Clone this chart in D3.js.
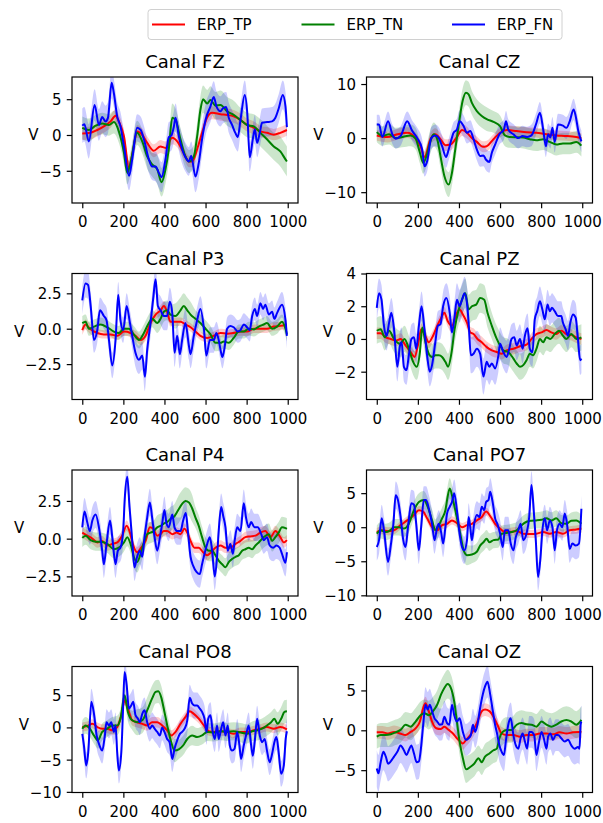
<!DOCTYPE html>
<html>
<head>
<meta charset="utf-8">
<script src="https://cdn.jsdelivr.net/npm/d3@7"></script>
<style>
  html, body { margin: 0; padding: 0; background: #ffffff; }
  svg { display: block; font-family: "DejaVu Sans", sans-serif; }
</style>
</head>
<body>
<svg id="chart" width="603" height="823"></svg>
<script>
// ---- categories / labels ----
const channels = ["FZ", "CZ", "P3", "PZ", "P4", "PO7", "PO8", "OZ"];
const seriesNames = ["ERP_TP", "ERP_TN", "ERP_FN"];
const timeTicks = [0, 200, 400, 600, 800, 1000];
const timeDomain = [-50, 1050];
// spread (standard error) values are given per 100 ms bin, 0..1000
const semBins = [0, 100, 200, 300, 400, 500, 600, 700, 800, 900, 1000];

// ---- y axis setup per channel ----
const yDomains = [[-9.5, 8.1], [-12.0, 11.3], [-5.0, 3.9], [-3.7, 4.0],
                  [-3.8, 4.55], [-10.1, 8.4], [-10.1, 9.45], [-7.8, 8.0]];
const yTickValues = [[-5, 0, 5], [-10, 0, 10], [-2.5, 0, 2.5], [-2, 0, 2, 4],
                     [-2.5, 0, 2.5], [-10, -5, 0, 5], [-10, -5, 0, 5], [-5, 0, 5]];
const yTickFormats = ["d", "d", ".1f", "d", ".1f", "d", "d", "d"];

// ---- averaged ERP traces: [time (ms), amplitude (V)] ----
const FZ_TP = [[0,0.2],[40,0.3],[73,0.7],[105,1.2],[138,1.9],[162,2.7],[178,1.9],[203,-0.2],[227,-4.5],[245,-2.5],[267,0.5],[292,0],[316,-1.1],[348,-2.2],[380,-1.6],[405,-1.8],[438,-0.4],[462,-0.9],[494,-2.5],[519,-3.7],[535,-3.7],[559,-2.0],[583,0.3],[607,2.4],[632,3.1],[673,2.9],[705,2.8],[737,2.6],[769,2.1],[802,1.4],[835,1.0],[867,0.5],[899,0.3],[932,0.05],[964,0.3],[996,0.7]];
const FZ_TN = [[0,1.0],[32,0.7],[65,1.3],[97,1.6],[130,1.4],[154,1.8],[178,0.5],[203,-2.5],[219,-5.3],[235,-3.9],[267,0.3],[292,-0.9],[316,-3.0],[340,-4.1],[365,-4.8],[386,-6.6],[405,-4.8],[421,-2.0],[438,2.4],[454,2.1],[478,-0.6],[502,-3.0],[519,-3.7],[543,-3.0],[559,-0.2],[575,3.5],[588,5.0],[608,4.4],[624,4.9],[648,4.1],[673,4.2],[705,3.3],[737,2.8],[770,2.1],[802,1.4],[835,1.2],[867,0.3],[899,-0.6],[932,-1.6],[964,-2.3],[989,-3.4],[996,-3.7]];
const FZ_FN = [[0,1.3],[10,1.5],[32,-0.9],[60,4.2],[81,1.4],[97,2.5],[113,1.9],[125,2.4],[143,7.3],[154,5.8],[170,2.6],[186,1.2],[203,-1.6],[228,-5.7],[243,-3.4],[267,1.0],[284,0.7],[300,-0.6],[324,-3.4],[340,-4.4],[357,-4.4],[373,-5.3],[386,-5.9],[405,-3.4],[421,-0.3],[433,-0.1],[446,1.2],[454,2.4],[470,-0.2],[486,-2.0],[502,-3.1],[519,-3.7],[530,-2.9],[551,-5.8],[567,-3.9],[583,-0.6],[600,2.1],[624,4.0],[640,5.3],[653,4.0],[673,3.3],[684,3.7],[700,3.9],[713,2.4],[729,1.4],[745,0.3],[757,-0.3],[770,2.1],[791,5.6],[803,3.1],[815,-3.1],[830,-0.6],[840,0.8],[851,-1.1],[864,0.3],[875,1.7],[900,1.8],[924,1.9],[940,2.4],[956,3.7],[976,5.6],[989,4.0],[996,1.1]];

const CZ_TP = [[0,0.5],[52,0.2],[100,0.7],[148,1.0],[189,0],[213,-1.5],[232,-3.5],[261,-0.2],[285,0.7],[310,-0.2],[334,-1.3],[358,-1.2],[390,0.2],[415,1.5],[439,1.0],[463,0],[487,-0.7],[516,-1.6],[535,-1.5],[568,-0.2],[600,1.0],[632,1.5],[681,1.3],[729,1.1],[777,1.0],[826,0.7],[874,0.5],[923,0.4],[971,0.2],[996,0]];
const CZ_TN = [[0,1.1],[27,0.4],[60,0.7],[92,0],[124,0.2],[165,0.5],[189,-0.1],[210,-2.7],[226,-4.6],[242,-3.3],[261,-0.6],[277,0.7],[294,-0.2],[310,-3.3],[329,-7.0],[350,-8.6],[366,-6.4],[382,-2.1],[398,2.2],[418,6.9],[434,8.4],[447,8.1],[463,6.5],[487,5.0],[511,4.1],[535,3.5],[568,3.0],[600,2.2],[624,0.5],[648,0.2],[681,0.15],[713,0.1],[745,-0.2],[777,-0.4],[810,-0.2],[842,-0.7],[874,-1.2],[906,-1.0],[939,-1.0],[971,-0.7],[996,-1.4]];
const CZ_FN = [[0,2.5],[11,2.5],[27,0.2],[55,3.1],[76,0.7],[92,-0.1],[116,0.4],[148,3.1],[173,1.3],[197,0],[221,-2.1],[232,-5.2],[245,-4.3],[265,0],[285,0.5],[302,0],[318,-1.5],[337,-3.5],[350,-2.1],[374,1.0],[390,1.6],[403,3.1],[423,2.2],[439,1.0],[455,1.3],[471,-0.2],[487,-2.1],[503,-3.3],[519,-3.2],[532,-4.0],[548,-4.4],[560,-2.7],[576,-1.2],[597,0.7],[619,1.6],[629,3.1],[640,1.6],[665,0.7],[689,0],[710,0.4],[732,0.2],[753,0.5],[777,2.8],[794,4.7],[810,1.6],[823,-1.5],[834,0.7],[845,0.1],[855,1.9],[866,-0.7],[882,2.5],[906,2.3],[923,1.9],[939,3.1],[958,5.3],[968,4.1],[981,1.3],[996,-0.6]];

const P3_TP = [[0,-0.1],[16,0.3],[37,0],[73,-0.3],[105,-0.4],[138,-0.4],[170,-0.5],[203,-0.2],[235,-0.3],[259,-0.5],[284,-0.8],[308,-0.5],[332,0.4],[357,1.0],[381,1.3],[397,1.6],[413,1.2],[429,0.5],[454,0.5],[478,0.5],[502,0.3],[527,0.1],[551,-0.2],[575,-0.5],[608,-0.65],[640,-0.5],[673,-0.3],[705,-0.35],[737,-0.3],[770,-0.2],[802,-0.2],[835,0],[867,0],[899,0],[932,0.15],[964,0.2],[996,0.3]];
const P3_TN = [[0,0.4],[16,0.5],[32,0],[57,0.15],[89,0.3],[122,0.1],[154,-0.2],[178,-0.3],[203,0],[227,0],[251,-0.4],[276,-0.8],[300,-0.3],[324,0.4],[340,0.7],[365,0.4],[381,0.7],[397,1.2],[413,1.3],[429,1.0],[454,0.9],[478,1.3],[494,1.6],[511,1.3],[527,1.0],[551,0.7],[575,0.4],[600,0],[624,-0.4],[648,-1.0],[673,-1.0],[689,-0.9],[713,-1.0],[737,-0.65],[762,-0.2],[786,-0.2],[810,0],[835,-0.05],[859,0.15],[883,0.3],[899,0.4],[924,0],[948,0.15],[972,0.5],[989,0],[996,-0.4]];
const P3_FN = [[0,2.0],[16,3.2],[28,3.1],[41,1.6],[57,-0.8],[73,-0.1],[86,1.3],[105,0.9],[118,0.6],[130,-0.8],[146,-2.6],[162,-0.8],[175,2.4],[186,0.6],[199,-0.1],[216,1.6],[232,0.4],[243,-0.5],[259,-1.7],[276,-2.2],[292,-1.9],[305,-3.4],[316,-1.5],[332,0.4],[345,2.1],[357,3.5],[368,1.6],[381,1.3],[397,0.9],[413,0.9],[426,1.9],[438,1.1],[449,-1.7],[462,-0.5],[475,-1.8],[486,-0.8],[502,0.4],[519,-1.2],[527,-1.8],[543,-0.5],[559,0.6],[575,1.4],[592,0],[604,-1.9],[621,-0.8],[640,-0.8],[653,-0.3],[664,-0.8],[673,-1.5],[682,-2.0],[694,-1.2],[705,0],[721,0.2],[737,0.1],[757,-0.2],[770,-0.1],[786,0.3],[802,0.1],[815,-0.1],[827,0.9],[840,1.4],[851,0.9],[867,1.8],[880,1.4],[891,1.7],[908,1.0],[924,1.2],[935,0.7],[948,1.1],[972,1.7],[989,0.6],[996,-0.5]];

const PZ_TP = [[0,0.35],[19,0.35],[44,0.1],[68,0],[92,-0.1],[116,0],[140,-0.4],[165,-0.8],[184,-1.1],[200,-0.4],[216,0.6],[232,0.3],[253,-0.2],[274,0.2],[294,0.8],[310,1.2],[329,1.6],[345,1.1],[366,0.8],[387,1.5],[403,1.8],[419,1.5],[439,1.0],[455,0.4],[471,0.3],[490,0],[511,-0.2],[535,-0.5],[560,-0.7],[584,-0.8],[608,-0.9],[632,-0.7],[665,-0.6],[697,-0.45],[729,-0.35],[753,0],[777,0.3],[802,0.4],[826,0.55],[850,0.4],[874,0.3],[898,0.5],[923,0.3],[947,0.25],[971,0.1],[996,0]];
const PZ_TN = [[0,0.5],[19,0.6],[39,0.1],[60,0.5],[84,0],[113,-0.3],[135,0],[156,-0.6],[177,-1.4],[194,-1.7],[210,-0.8],[221,0.7],[237,-0.2],[253,-0.9],[269,-1.1],[285,-1.0],[302,-1.0],[318,-1.1],[334,-1.4],[347,-1.7],[363,-0.9],[379,0.6],[395,1.6],[415,2.4],[431,2.8],[447,1.8],[463,2.0],[484,2.1],[503,2.5],[523,2.4],[539,1.6],[560,0.8],[584,0],[600,-0.4],[616,-0.7],[640,-0.8],[665,-1.2],[681,-1.5],[697,-1.7],[713,-1.6],[729,-1.3],[745,-0.9],[761,-1.0],[777,-0.6],[794,0],[810,-0.2],[826,0.1],[845,0],[866,0.3],[887,0.5],[906,0.2],[923,0],[947,0.3],[971,0],[996,0.1]];
const PZ_FN = [[0,1.9],[11,2.8],[23,2.4],[35,0.8],[48,0.2],[60,1.0],[71,1.6],[84,0.6],[100,-1.7],[113,-0.4],[121,-0.2],[132,-1.7],[145,-1.9],[156,-1.0],[169,0],[181,0.1],[192,-0.6],[205,0.8],[218,2.0],[232,0.6],[245,-1.0],[258,-2.0],[269,-1.6],[285,-0.2],[297,0.8],[310,0.9],[323,2.0],[339,2.5],[355,1.6],[366,0.4],[379,1.4],[390,2.4],[403,2.0],[415,2.4],[427,2.8],[439,2.2],[447,1.0],[458,-1.0],[471,-0.9],[487,-0.6],[503,-0.9],[519,-2.3],[535,-1.4],[548,-1.7],[560,-1.5],[576,-1.8],[592,-1.0],[600,-0.3],[616,-0.8],[632,-1.1],[645,-0.6],[656,0],[669,0.1],[681,-0.4],[697,0],[710,-0.6],[721,0.2],[734,0.65],[745,-0.6],[758,-0.8],[769,1.2],[781,1.7],[794,2.3],[806,1.8],[818,1.2],[831,2.1],[842,1.7],[853,1.9],[866,1.7],[882,1.4],[898,1.4],[906,1.0],[919,0.6],[931,0.2],[942,1.0],[955,1.5],[968,1.3],[979,0],[990,-1.3],[996,-1.2]];

const P4_TP = [[0,0.4],[24,0.2],[49,0],[73,-0.25],[97,-0.15],[122,-0.45],[146,-0.35],[170,-0.25],[194,0.2],[216,0.85],[232,0.4],[248,-0.45],[267,-0.9],[287,-0.6],[308,-0.15],[329,0.75],[345,0.65],[365,0.2],[381,0.3],[397,0.5],[413,0.5],[438,0.3],[459,0.4],[478,0.3],[497,0.65],[511,0.4],[527,-0.15],[546,-0.6],[567,-0.6],[588,-0.9],[608,-1.1],[627,-0.9],[648,-0.6],[673,-0.45],[697,-0.6],[721,-0.6],[746,-0.35],[770,-0.15],[794,0.1],[818,0.15],[843,0.2],[867,0.4],[891,0.5],[916,0.1],[940,0.5],[964,0.1],[981,-0.25],[996,-0.1]];
const P4_TN = [[0,0.05],[16,0.2],[41,-0.1],[65,-0.2],[89,-0.2],[122,-0.35],[154,-0.7],[178,-0.6],[203,-0.25],[219,0.1],[235,-0.35],[251,-1.2],[267,-1.55],[284,-1.0],[300,-0.25],[316,0.3],[332,0.4],[348,0.5],[365,0.75],[381,0.85],[397,1.0],[413,1.1],[429,1.3],[449,1.5],[465,1.85],[486,2.3],[502,2.5],[519,2.4],[535,2.0],[551,1.4],[567,0.85],[583,0.1],[600,-0.6],[616,-0.8],[632,-0.8],[648,-1.1],[664,-1.45],[681,-1.7],[697,-1.9],[713,-1.55],[729,-1.35],[746,-1.2],[762,-1.1],[778,-0.8],[794,-0.7],[810,-0.6],[827,-0.7],[843,-0.45],[859,-0.25],[883,0.1],[908,0.3],[924,-0.15],[940,0.1],[956,0.4],[972,0.75],[989,0.7],[996,0.65]];
const P4_FN = [[0,0.75],[11,1.8],[24,1.1],[37,0.5],[49,1.2],[65,1.6],[81,0.75],[97,-0.8],[105,-1.7],[118,-0.35],[135,1.2],[146,0.1],[162,-1.7],[173,-0.8],[186,-0.6],[199,0.5],[207,2.7],[219,4.1],[230,2.1],[243,-0.1],[254,-1.9],[267,-1.2],[280,-0.8],[292,-1.2],[303,0.1],[316,1.4],[329,2.4],[340,1.4],[352,0.1],[365,-0.8],[378,0.1],[389,1.0],[400,1.9],[410,1.0],[421,0.75],[438,1.6],[449,0.75],[462,0.5],[478,0.5],[491,1.2],[504,1.7],[514,0.5],[527,-1.2],[540,-1.8],[556,-2.2],[572,-2.35],[583,-1.7],[595,-1.0],[608,-0.35],[621,0.1],[632,-0.8],[645,-2.5],[656,-1.2],[664,0.5],[676,2.1],[686,1.5],[697,0.75],[708,-0.8],[721,-0.35],[733,-1.0],[742,-0.1],[754,0.75],[770,0.5],[786,2.35],[797,1.4],[810,0.75],[822,1.1],[838,0.75],[854,0.75],[871,0.3],[883,-0.1],[899,0.1],[912,-0.45],[929,-0.6],[945,-0.45],[961,-0.6],[972,-1.0],[989,-1.6],[996,-0.9]];

const PO7_TP = [[0,-0.7],[27,-0.45],[55,-0.6],[84,-0.45],[116,0.3],[148,1.0],[181,1.8],[205,2.5],[226,2.3],[245,1.3],[269,0],[294,-0.45],[318,0.3],[342,0.5],[366,1.0],[390,0.6],[415,0],[439,0.3],[463,0.5],[487,1.0],[511,1.5],[532,2.3],[555,1.5],[576,0.5],[600,-0.2],[624,-0.7],[648,-0.7],[681,-0.55],[713,-0.95],[745,-1.0],[777,-0.95],[810,-0.7],[842,-0.95],[874,-0.7],[906,-0.95],[939,-0.45],[971,-0.35],[996,-0.2]];
const PO7_TN = [[0,-0.95],[19,-0.45],[44,-0.7],[65,-0.45],[84,0],[108,0],[132,-0.2],[156,0.5],[181,2.5],[205,3.7],[229,4.0],[248,3.0],[269,1.0],[285,-0.45],[302,0.3],[318,1.3],[334,2.5],[345,4.5],[355,5.7],[371,4.0],[387,1.8],[403,-0.45],[423,-3.4],[439,-4.1],[463,-4.0],[487,-3.6],[503,-2.7],[519,-2.2],[535,-1.7],[548,-2.2],[568,-1.9],[592,-1.8],[608,-0.95],[632,-0.85],[656,-0.7],[681,-0.45],[705,0.3],[729,0.8],[753,0.95],[777,1.0],[802,1.1],[826,1.3],[850,1.0],[874,1.3],[898,0.6],[923,0.5],[947,0.95],[971,1.0],[996,0.5]];
const PO7_FN = [[0,-2.9],[11,-1.9],[24,1.3],[35,-0.45],[55,-5.1],[68,-2.7],[81,0.5],[92,4.7],[103,4.0],[116,1.5],[129,-1.9],[140,-2.9],[152,0],[168,3.5],[181,3.3],[192,0.5],[205,-3.4],[216,0],[229,4.0],[240,4.0],[253,2.8],[269,0.5],[281,-1.9],[294,0],[302,0.5],[313,-0.7],[323,-2.4],[334,0],[342,2.0],[355,3.0],[366,3.7],[377,5.0],[390,2.5],[403,-0.9],[415,-2.9],[426,-3.4],[439,-1.9],[447,1.5],[455,0],[463,-1.9],[474,0.5],[487,1.8],[500,1.5],[511,3.0],[523,2.5],[532,3.7],[544,4.0],[552,5.2],[565,3.5],[576,1.3],[587,0.5],[600,-0.9],[613,-2.9],[624,-0.45],[640,-0.45],[652,-2.4],[665,-3.4],[677,-1.4],[689,-0.45],[700,0.5],[713,-1.9],[729,-0.9],[742,1.5],[753,6.2],[765,2.0],[774,-1.9],[785,-7.3],[797,-4.4],[806,-0.45],[818,1.3],[829,-0.45],[842,1.0],[855,0],[866,-3.4],[877,-0.45],[890,0.5],[903,0],[915,2.0],[926,0.5],[939,-3.2],[952,-2.4],[968,-2.7],[984,-2.4],[996,2.7]];

const PO8_TP = [[0,0.05],[24,0.2],[49,0.55],[73,0.05],[97,-0.2],[122,-0.2],[146,-0.45],[170,0.05],[190,1.9],[206,4.2],[222,2.9],[243,1.1],[267,0.8],[292,0.55],[316,0.3],[340,0.8],[365,0.8],[389,0.3],[413,-0.45],[433,-1.25],[454,-0.7],[478,0.55],[502,1.6],[523,2.5],[543,2.1],[567,1.35],[592,0.3],[616,-0.6],[640,-0.7],[673,-0.6],[705,-0.7],[737,-1.0],[770,-0.7],[802,-0.7],[835,-0.45],[867,-0.2],[899,0.05],[932,-0.2],[964,0.05],[996,-0.3]];
const PO8_TN = [[0,-0.2],[16,0.3],[37,-0.2],[57,-1.25],[76,-2.0],[97,-0.7],[122,-0.2],[146,0.3],[170,0.3],[186,1.35],[206,5.0],[222,2.4],[243,1.1],[267,0.8],[292,1.1],[316,2.65],[340,4.5],[357,5.5],[370,5.6],[384,4.7],[400,2.4],[417,-0.2],[433,-2.3],[449,-3.6],[470,-3.4],[491,-2.8],[511,-1.8],[535,-1.25],[559,-1.5],[583,-1.25],[608,-0.7],[640,-0.8],[673,-0.6],[705,-0.7],[737,-0.6],[770,-0.8],[802,-1.0],[827,-0.6],[851,-0.45],[875,-0.2],[899,0.3],[919,0.8],[935,1.35],[951,0.55],[968,1.35],[984,2.4],[996,2.5]];
const PO8_FN = [[0,-1.0],[8,-2.8],[19,-5.9],[29,-3.9],[44,4.0],[57,2.1],[70,-1.25],[84,-2.8],[97,-3.6],[109,-1.5],[118,0.8],[130,0.3],[141,0.8],[154,-0.7],[162,0.3],[170,-3.9],[178,-6.7],[190,-3.9],[198,2.4],[206,8.6],[216,6.6],[227,2.9],[238,3.4],[248,4.0],[259,1.9],[271,1.35],[280,0.8],[292,2.1],[303,2.65],[316,0.8],[329,-0.2],[340,0.3],[352,-0.2],[365,-0.7],[378,-1.25],[389,0],[400,-0.7],[413,-1.8],[425,-2.3],[438,-4.9],[449,-3.3],[462,-2.0],[475,-1.0],[486,-0.7],[498,-0.2],[511,1.1],[523,4.6],[535,3.7],[546,3.4],[559,3.4],[572,2.9],[583,2.4],[595,1.35],[605,-0.7],[613,1.35],[624,1.9],[635,-0.7],[645,-1.8],[656,0.3],[664,-1.8],[676,-0.2],[686,0.8],[697,-1.25],[708,0.3],[718,-2.8],[729,-3.6],[741,-3.3],[754,-0.7],[765,-2.8],[773,-4.9],[786,-2.8],[797,-1.25],[810,0.3],[822,-2.8],[830,-4.4],[840,-2.0],[851,1.35],[864,-1.25],[875,-2.3],[888,-1.8],[899,-3.6],[912,-5.4],[924,-4.1],[935,-2.3],[945,-1.5],[956,-3.9],[968,-7.2],[981,-5.9],[990,-1.8],[996,-0.6]];

const OZ_TP = [[0,-0.25],[27,-0.25],[55,-0.4],[84,-0.2],[113,-0.4],[140,-0.6],[165,-0.2],[189,0.25],[210,1.1],[226,2.8],[237,3.4],[253,2.4],[269,1.1],[290,0.25],[310,0.15],[329,0.45],[350,0.05],[371,-0.4],[390,-1.0],[406,-1.4],[419,-1.65],[435,-1.2],[455,-0.6],[471,0.05],[490,1.1],[511,2.4],[527,2.6],[548,2.4],[568,1.7],[587,0.7],[608,-0.4],[632,-0.6],[665,-0.6],[697,-0.8],[729,-0.6],[761,-0.6],[794,-0.4],[826,-0.4],[858,-0.5],[890,-0.25],[923,-0.4],[955,-0.25],[987,-0.2],[996,-0.25]];
const OZ_TN = [[0,-0.8],[19,-0.6],[44,-0.6],[68,-0.5],[92,-0.25],[116,0.05],[140,0.7],[165,0.45],[189,1.1],[213,1.9],[232,2.15],[253,1.9],[274,2.4],[294,3.2],[313,4.5],[329,5.3],[345,5.8],[361,5.3],[377,3.6],[390,1.1],[403,-1.4],[419,-3.5],[435,-4.9],[455,-4.6],[474,-4.2],[495,-3.5],[511,-4.0],[527,-3.3],[548,-2.9],[568,-2.5],[584,-2.3],[597,-1.0],[613,-0.2],[632,0.05],[656,0.05],[681,0.7],[705,0.9],[729,0.75],[753,0.7],[777,0.45],[802,1.1],[826,0.7],[850,0.45],[874,0.7],[898,1.1],[923,1.3],[947,1.1],[971,0.7],[996,1.3]];
const OZ_FN = [[0,-4.8],[8,-5.4],[19,-4.0],[32,-2.7],[44,-3.3],[55,-4.2],[68,-3.9],[84,-3.3],[100,-2.7],[116,-1.9],[132,-2.5],[145,-3.1],[156,-2.5],[168,-1.9],[181,-2.9],[194,-4.0],[205,-3.9],[213,-2.7],[226,0.7],[237,3.2],[248,2.6],[258,3.2],[269,2.4],[281,1.5],[294,1.1],[306,0.7],[318,0.75],[329,1.7],[342,0.9],[353,0.7],[366,3.2],[377,1.9],[390,1.1],[403,1.5],[419,-0.2],[434,-1.2],[447,-1.0],[458,-0.6],[468,0.7],[479,-0.2],[490,0.7],[503,2.8],[516,4.5],[527,5.5],[539,6.1],[552,4.5],[565,2.4],[576,0.7],[587,-0.6],[597,-1.9],[608,-2.7],[619,-3.1],[629,-1.2],[640,0.7],[652,1.5],[665,-0.6],[677,-1.9],[689,-2.3],[700,-1.0],[710,-0.4],[721,-1.4],[732,-2.3],[742,-0.2],[753,-0.2],[766,-0.6],[777,-3.1],[790,-1.4],[802,-0.2],[813,-1.0],[826,-2.3],[834,-0.8],[845,-0.4],[858,-1.2],[871,-0.6],[882,-0.6],[898,-1.0],[915,-1.4],[931,-1.2],[947,-1.9],[963,-2.3],[979,-2.1],[987,-2.3],[992,0.7],[996,1.1]];

// ---- standard error per 100 ms bin ----
const FZ_TP_sem = [0.9,0.9,0.9,0.9,0.9,0.8,0.9,0.9,0.9,0.8,0.8];
const FZ_TN_sem = [1.6,1.5,1.6,1.7,2.0,1.6,1.9,2.0,1.7,1.9,2.1];
const FZ_FN_sem = [2.4,2.2,2.0,1.9,2.1,2.0,2.2,2.1,2.0,2.0,2.0];
const CZ_TP_sem = [1.0,1.0,1.0,1.1,1.1,1.0,0.9,0.9,0.9,0.9,0.9];
const CZ_TN_sem = [1.8,1.9,2.0,2.2,2.3,2.2,2.0,2.0,2.0,2.0,2.0];
const CZ_FN_sem = [1.8,1.8,1.9,2.0,2.0,2.0,1.9,1.9,2.0,2.0,2.0];
const P3_TP_sem = [0.35,0.3,0.3,0.35,0.35,0.3,0.3,0.3,0.3,0.3,0.3];
const P3_TN_sem = [0.5,0.5,0.5,0.6,0.7,0.9,0.6,0.5,0.5,0.5,0.5];
const P3_FN_sem = [1.0,0.9,0.9,1.0,1.0,1.0,0.9,0.8,0.8,0.8,0.9];
const PZ_TP_sem = [0.35,0.35,0.35,0.35,0.4,0.35,0.35,0.35,0.35,0.35,0.35];
const PZ_TN_sem = [0.8,0.8,0.8,0.8,0.9,0.9,0.8,0.8,0.8,0.8,0.8];
const PZ_FN_sem = [0.9,0.9,0.9,0.9,1.0,1.1,1.0,0.9,0.9,0.9,0.9];
const P4_TP_sem = [0.35,0.35,0.35,0.35,0.35,0.35,0.35,0.35,0.35,0.35,0.35];
const P4_TN_sem = [0.6,0.6,0.6,0.7,0.8,0.9,0.7,0.6,0.6,0.7,0.7];
const P4_FN_sem = [0.9,0.9,0.9,0.9,0.9,0.9,0.9,0.9,0.9,0.9,0.9];
const PO7_TP_sem = [0.6,0.6,0.6,0.6,0.6,0.6,0.6,0.6,0.6,0.6,0.6];
const PO7_TN_sem = [1.2,1.2,1.3,1.6,1.5,1.3,1.2,1.2,1.2,1.2,1.3];
const PO7_FN_sem = [2.0,2.0,2.0,2.0,2.0,2.0,2.0,2.0,2.0,2.0,2.0];
const PO8_TP_sem = [0.7,0.7,0.8,0.8,0.8,0.8,0.7,0.7,0.7,0.7,0.7];
const PO8_TN_sem = [1.3,1.3,1.5,2.0,1.8,1.5,1.4,1.4,1.5,1.6,1.8];
const PO8_FN_sem = [2.0,2.0,2.0,2.0,2.0,2.0,2.0,2.0,2.0,2.0,2.0];
const OZ_TP_sem = [0.8,0.8,0.8,0.8,0.8,0.8,0.8,0.8,0.8,0.8,0.8];
const OZ_TN_sem = [1.5,1.6,1.7,1.8,1.7,1.6,1.6,1.6,1.6,1.7,1.7];
const OZ_FN_sem = [2.3,2.2,2.2,2.0,2.0,2.0,2.0,2.0,2.0,2.0,2.0];

// ---- per-channel table built from the arrays above ----
const traces = [
  [FZ_TP, FZ_TN, FZ_FN], [CZ_TP, CZ_TN, CZ_FN],
  [P3_TP, P3_TN, P3_FN], [PZ_TP, PZ_TN, PZ_FN],
  [P4_TP, P4_TN, P4_FN], [PO7_TP, PO7_TN, PO7_FN],
  [PO8_TP, PO8_TN, PO8_FN], [OZ_TP, OZ_TN, OZ_FN]
];
const spreads = [
  [FZ_TP_sem, FZ_TN_sem, FZ_FN_sem], [CZ_TP_sem, CZ_TN_sem, CZ_FN_sem],
  [P3_TP_sem, P3_TN_sem, P3_FN_sem], [PZ_TP_sem, PZ_TN_sem, PZ_FN_sem],
  [P4_TP_sem, P4_TN_sem, P4_FN_sem], [PO7_TP_sem, PO7_TN_sem, PO7_FN_sem],
  [PO8_TP_sem, PO8_TN_sem, PO8_FN_sem], [OZ_TP_sem, OZ_TN_sem, OZ_FN_sem]
];

// ---- layout / style ----
const colors = ["#ff0000", "#008000", "#0000ff"];
const plotW = 226, plotH = 126;
const colLeft = [72, 366.5];
const rowTop = [77, 273.5, 470, 666.5];
const tickLen = 5.25, tickPad = 5.25;
const tickFont = 15, titleFont = 18;

const svg = d3.select("#chart");
const semAt = (sem, t) => sem[Math.min(semBins.length - 1, Math.round(t / 100))];

channels.forEach((ch, i) => {
  const left = colLeft[i % 2], top = rowTop[Math.floor(i / 2)];
  const g = svg.append("g").attr("transform", `translate(${left},${top})`);

  const x = d3.scaleLinear().domain(timeDomain).range([0, plotW]);
  const y = d3.scaleLinear().domain(yDomains[i]).range([plotH, 0]);

  const clipId = "clip-" + ch;
  g.append("clipPath").attr("id", clipId)
    .append("rect").attr("width", plotW).attr("height", plotH);
  const plot = g.append("g").attr("clip-path", `url(#${clipId})`);

  // shaded spread bands first, then the mean traces on top
  traces[i].forEach((s, k) => {
    const sem = spreads[i][k];
    const area = d3.area()
      .x(d => x(d[0]))
      .y0(d => y(d[1] - semAt(sem, d[0])))
      .y1(d => y(d[1] + semAt(sem, d[0])))
      .curve(d3.curveMonotoneX);
    plot.append("path").datum(s)
      .attr("d", area)
      .attr("fill", colors[k])
      .attr("fill-opacity", 0.2)
      .attr("stroke", "none");
  });
  traces[i].forEach((s, k) => {
    const line = d3.line()
      .x(d => x(d[0]))
      .y(d => y(d[1]))
      .curve(d3.curveMonotoneX);
    plot.append("path").datum(s)
      .attr("d", line)
      .attr("fill", "none")
      .attr("stroke", colors[k])
      .attr("stroke-width", 2)
      .attr("stroke-linejoin", "round");
  });

  // axes
  const xAxis = d3.axisBottom(x).tickValues(timeTicks)
    .tickSize(tickLen).tickSizeOuter(0).tickPadding(tickPad)
    .tickFormat(d3.format("d"));
  const gx = g.append("g").attr("transform", `translate(0,${plotH})`).call(xAxis);
  gx.select(".domain").remove();
  gx.selectAll("line").attr("stroke", "#000").attr("stroke-width", 1.2);
  gx.selectAll("text").attr("y", tickLen + tickPad).attr("dy", "0.93em")
    .attr("fill", "#000").style("font-size", tickFont + "px")
    .style("font-family", '"DejaVu Sans", sans-serif');

  const yAxis = d3.axisLeft(y).tickValues(yTickValues[i])
    .tickSize(tickLen).tickSizeOuter(0).tickPadding(tickPad)
    .tickFormat(d3.format(yTickFormats[i]));
  const gy = g.append("g").call(yAxis);
  gy.select(".domain").remove();
  gy.selectAll("line").attr("stroke", "#000").attr("stroke-width", 1.2);
  gy.selectAll("text").attr("dy", "0.36em")
    .attr("fill", "#000").style("font-size", tickFont + "px")
    .style("font-family", '"DejaVu Sans", sans-serif');

  let maxW = 0;
  gy.selectAll("text").each(function () { maxW = Math.max(maxW, this.getComputedTextLength()); });

  // frame
  g.append("rect").attr("width", plotW).attr("height", plotH)
    .attr("fill", "none").attr("stroke", "#000").attr("stroke-width", 1.2);

  // title and y label
  g.append("text").attr("x", plotW / 2).attr("y", -9)
    .attr("text-anchor", "middle").attr("fill", "#000")
    .style("font-size", titleFont + "px")
    .text("Canal " + ch);

  g.append("text").attr("x", -(tickLen + tickPad + maxW + 6)).attr("y", plotH / 2)
    .attr("text-anchor", "middle").attr("fill", "#000")
    .style("font-size", tickFont + "px")
    .text("V");
});

// ---- legend ----
const legendBox = { x: 148, y: 9.5, w: 414, h: 30 };
const legendSlots = [152, 301.5, 452];
const legend = svg.append("g");
legend.append("rect")
  .attr("x", legendBox.x).attr("y", legendBox.y)
  .attr("width", legendBox.w).attr("height", legendBox.h)
  .attr("rx", 3).attr("fill", "#fff")
  .attr("stroke", "#d0d0d0").attr("stroke-width", 1);
seriesNames.forEach((name, k) => {
  const cy = legendBox.y + legendBox.h / 2;
  legend.append("line")
    .attr("x1", legendSlots[k]).attr("x2", legendSlots[k] + 33)
    .attr("y1", cy).attr("y2", cy)
    .attr("stroke", colors[k]).attr("stroke-width", 2);
  legend.append("text")
    .attr("x", legendSlots[k] + 45).attr("y", cy).attr("dy", "0.36em")
    .attr("fill", "#000").style("font-size", tickFont + "px")
    .text(name);
});
</script>
</body>
</html>
